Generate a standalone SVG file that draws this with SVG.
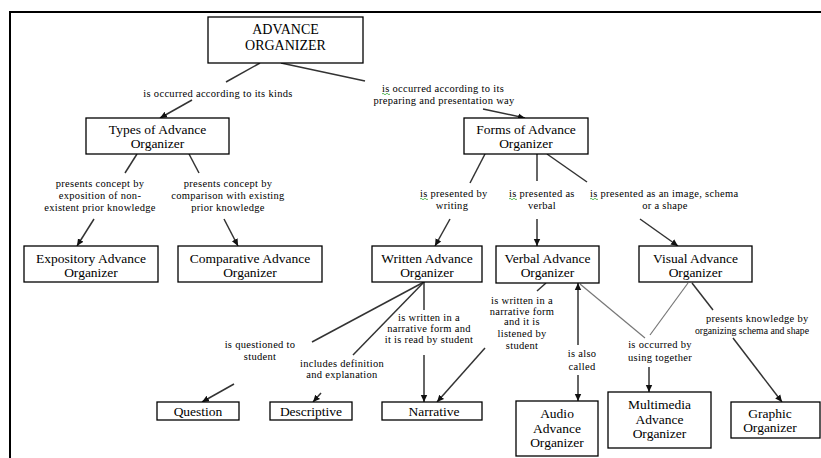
<svg xmlns="http://www.w3.org/2000/svg" width="821" height="458" viewBox="0 0 821 458" font-family="'Liberation Serif', 'DejaVu Serif', serif">
<style>
text{font-family:'Liberation Serif','DejaVu Serif',serif;fill:#000}
.box{fill:#fff;stroke:#000;stroke-width:1.3}
.bt{font-size:13.5px;text-anchor:middle}
.big{font-size:14px}
.lt{font-size:10.5px;letter-spacing:0.3px;text-anchor:middle}
.ls{text-anchor:start}
.c{stroke:#333;stroke-width:1.5;fill:none}
.g{stroke:#777;stroke-width:1.2;fill:none}
.a{marker-end:url(#ah)}
.sq{stroke:#3a3;stroke-width:0.8;fill:none}
</style>
<defs>
<marker id="ah" markerWidth="8" markerHeight="8" refX="7" refY="4" orient="auto" markerUnits="userSpaceOnUse">
<path d="M0,0.8 L7,4 L0,7.2 Z" fill="#111"/>
</marker>
</defs>
<rect x="10" y="12" width="830" height="470" fill="#fff" stroke="#000" stroke-width="2"/>

<g id="connectors">
<line class="c" x1="260" y1="63" x2="226" y2="82"/>
<line class="c a" x1="192" y1="100" x2="160" y2="118"/>
<line class="c" x1="281" y1="63" x2="365" y2="81"/>
<line class="c a" x1="483" y1="109" x2="525" y2="118"/>
<line class="c" x1="137" y1="154" x2="125" y2="173"/>
<line class="c" x1="189" y1="154" x2="199" y2="173"/>
<line class="c a" x1="94" y1="219" x2="77" y2="246"/>
<line class="c a" x1="224" y1="219" x2="238" y2="246"/>
<line class="c" x1="485" y1="154" x2="470" y2="183"/>
<line class="c" x1="537" y1="154" x2="537" y2="181"/>
<line class="c" x1="547" y1="154" x2="587" y2="182"/>
<line class="c a" x1="450" y1="219" x2="435" y2="246"/>
<line class="c a" x1="537" y1="219" x2="537" y2="246"/>
<line class="c a" x1="640" y1="219" x2="678" y2="246"/>
<line class="c" x1="424" y1="282" x2="312" y2="342"/>
<line class="c" x1="424" y1="282" x2="353" y2="355"/>
<line class="c" x1="424" y1="282" x2="424" y2="310"/>
<line class="c a" x1="424" y1="355" x2="424" y2="402"/>
<line class="c a" x1="234" y1="384" x2="202" y2="402"/>
<line class="c a" x1="321" y1="393" x2="313" y2="402"/>
<line class="c" x1="546" y1="283" x2="537" y2="291"/>
<line class="c a" x1="485" y1="348" x2="437" y2="402"/>
<line class="c a" x1="578" y1="345" x2="578" y2="283"/>
<line class="c a" x1="578" y1="375" x2="578" y2="401"/>
<line class="g" x1="580" y1="284" x2="645" y2="338"/>
<line class="g" x1="688" y1="283" x2="650" y2="335"/>
<line class="c a" x1="649" y1="367" x2="649" y2="392"/>
<line class="c" x1="692" y1="283" x2="713" y2="310"/>
<line class="c a" x1="733" y1="338" x2="782" y2="402"/>
</g>

<g id="labels">
<text class="lt" x="218" y="96.5">is occurred according to its kinds</text>
<text class="lt ls" x="382" y="91.5">is occurred according to its</text>
<text class="lt" x="444" y="104">preparing and presentation way</text>
<text class="lt" x="100" y="186.5">presents concept  by</text>
<text class="lt" x="100" y="198.5">exposition of non-</text>
<text class="lt" x="100" y="210.5">existent prior knowledge</text>
<text class="lt" x="228" y="186.5">presents concept by</text>
<text class="lt" x="228" y="198.5">comparison with existing</text>
<text class="lt" x="228" y="210.5">prior knowledge</text>
<text class="lt ls" x="420" y="196.5">is presented by</text>
<text class="lt" x="452" y="208.5">writing</text>
<text class="lt ls" x="509" y="196.5">is presented as</text>
<text class="lt" x="542" y="208.5">verbal</text>
<text class="lt ls" x="590" y="196.5">is presented as an image, schema</text>
<text class="lt" x="665" y="208.5">or a shape</text>
<text class="lt" x="260" y="347.5">is questioned to</text>
<text class="lt" x="260" y="359.5">student</text>
<text class="lt" x="342" y="366.5">includes definition</text>
<text class="lt" x="342" y="378">and explanation</text>
<text class="lt" x="429" y="320.5">is written in a</text>
<text class="lt" x="429" y="331.5">narrative form and</text>
<text class="lt" x="429" y="342.5">it is read by student</text>
<text class="lt" x="522" y="303.5">is written in a</text>
<text class="lt" x="522" y="314.5">narrative form</text>
<text class="lt" x="522" y="325">and it is</text>
<text class="lt" x="522" y="336.5">listened by</text>
<text class="lt" x="522" y="348.5">student</text>
<text class="lt" x="582" y="356.5">is also</text>
<text class="lt" x="582" y="369.5">called</text>
<text class="lt" x="660" y="347.5">is occurred by</text>
<text class="lt" x="660" y="360.5">using together</text>
<text class="lt ls" x="706" y="321.5">presents knowledge by</text>
<text class="lt ls" x="695" y="333.5" style="letter-spacing:0" textLength="114" lengthAdjust="spacingAndGlyphs">organizing schema and shape</text>
<path class="sq" d="M382,94 q1,-1.5 2,0 t2,0 t2,0 t2,0"/>
<path class="sq" d="M420,199 q1,-1.5 2,0 t2,0 t2,0 t2,0"/>
<path class="sq" d="M509,199 q1,-1.5 2,0 t2,0 t2,0 t2,0"/>
<path class="sq" d="M590,199 q1,-1.5 2,0 t2,0 t2,0 t2,0"/>
</g>

<g id="advance-organizer">
<rect class="box" x="208" y="17" width="155" height="46"/>
<text class="bt big" x="285.5" y="34">ADVANCE</text>
<text class="bt big" x="285.5" y="50">ORGANIZER</text>
</g>
<g id="types">
<rect class="box" x="86" y="118" width="143" height="36"/>
<text class="bt" x="157.5" y="134">Types of Advance</text>
<text class="bt" x="157.5" y="148">Organizer</text>
</g>
<g id="forms">
<rect class="box" x="464" y="118" width="124" height="36"/>
<text class="bt" x="526" y="134">Forms of Advance</text>
<text class="bt" x="526" y="148">Organizer</text>
</g>
<g id="expository">
<rect class="box" x="24" y="246" width="134" height="36"/>
<text class="bt" x="91" y="263">Expository Advance</text>
<text class="bt" x="91" y="277">Organizer</text>
</g>
<g id="comparative">
<rect class="box" x="178" y="246" width="144" height="36"/>
<text class="bt" x="250" y="263">Comparative Advance</text>
<text class="bt" x="250" y="277">Organizer</text>
</g>
<g id="written">
<rect class="box" x="372" y="246" width="110" height="36"/>
<text class="bt" x="427" y="263">Written Advance</text>
<text class="bt" x="427" y="277">Organizer</text>
</g>
<g id="verbal">
<rect class="box" x="496" y="246" width="103" height="37"/>
<text class="bt" x="547.5" y="263">Verbal Advance</text>
<text class="bt" x="547.5" y="277">Organizer</text>
</g>
<g id="visual">
<rect class="box" x="639" y="246" width="113" height="36"/>
<text class="bt" x="695.5" y="263">Visual Advance</text>
<text class="bt" x="695.5" y="277">Organizer</text>
</g>
<g id="question">
<rect class="box" x="157" y="402" width="82" height="18"/>
<text class="bt" x="198" y="416">Question</text>
</g>
<g id="descriptive">
<rect class="box" x="270" y="402" width="82" height="18"/>
<text class="bt" x="311" y="416">Descriptive</text>
</g>
<g id="narrative">
<rect class="box" x="382" y="402" width="100" height="18"/>
<text class="bt" x="434" y="416">Narrative</text>
</g>
<g id="audio">
<rect class="box" x="516" y="401" width="82" height="55"/>
<text class="bt" x="557" y="418">Audio</text>
<text class="bt" x="557" y="433">Advance</text>
<text class="bt" x="557" y="447">Organizer</text>
</g>
<g id="multimedia">
<rect class="box" x="608" y="392" width="103" height="56"/>
<text class="bt" x="659.5" y="409">Multimedia</text>
<text class="bt" x="659.5" y="424">Advance</text>
<text class="bt" x="659.5" y="438">Organizer</text>
</g>
<g id="graphic">
<rect class="box" x="731" y="402" width="89" height="36"/>
<text class="bt" x="770" y="418">Graphic</text>
<text class="bt" x="770" y="432">Organizer</text>
</g>
</svg>
